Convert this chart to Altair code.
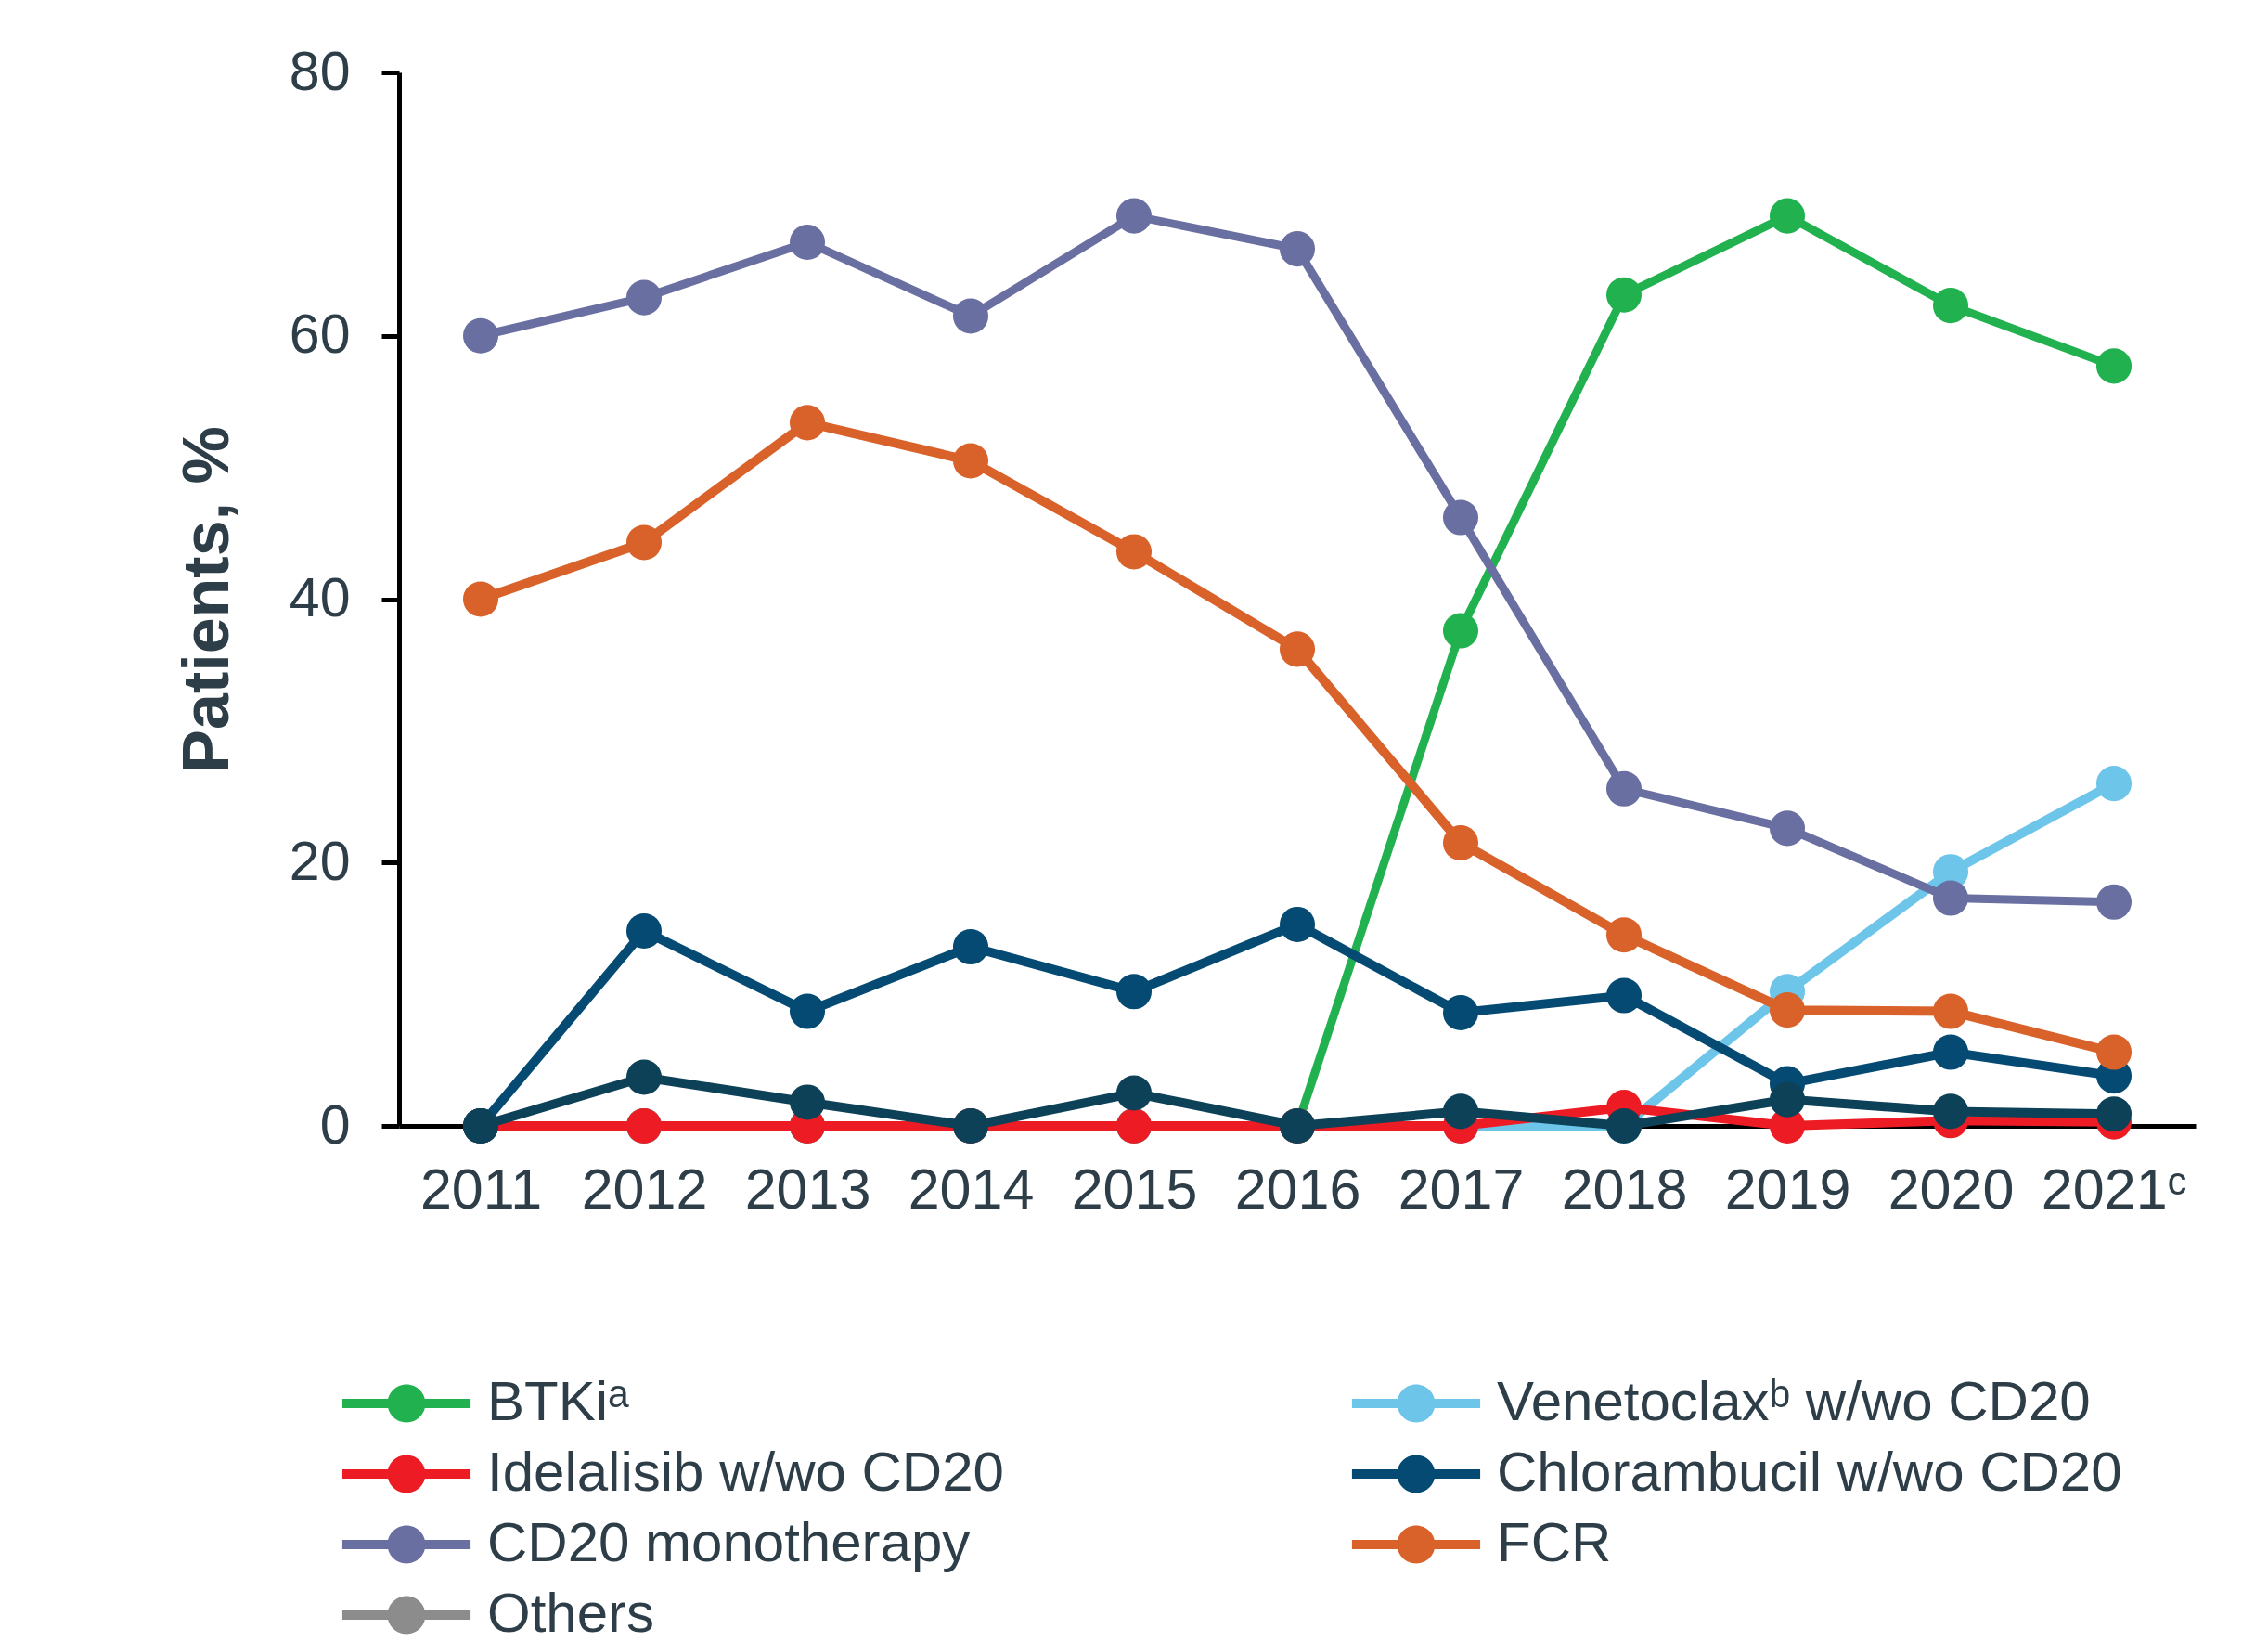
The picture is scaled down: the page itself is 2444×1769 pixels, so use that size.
import altair as alt
import pandas as pd

years = [2011, 2012, 2013, 2014, 2015, 2016, 2017, 2018, 2019, 2020, 2021]
btki = [0, 0, 0, 0, 0, 0, 37.6, 63.1, 69.1, 62.3, 57.7]
venetoclax = [0, 0, 0, 0, 0, 0, 0, 0, 10.2, 19.3, 26.0]
idelalisib = [0, 0, 0, 0, 0, 0, 0, 1.4, 0, 0.4, 0.3]
chlorambucil = [0, 14.8, 8.7, 13.6, 10.2, 15.3, 8.6, 9.9, 3.2, 5.6, 3.8]
cd20 = [60.0, 62.9, 67.1, 61.5, 69.1, 66.6, 46.2, 25.6, 22.6, 17.3, 17.0]
fcr = [40.0, 44.3, 53.4, 50.5, 43.6, 36.2, 21.5, 14.5, 8.8, 8.7, 5.6]
others = [0, 3.7, 1.8, 0, 2.5, 0, 1.1, 0, 2.0, 1.1, 0.9]

names = {
    "btki": "BTKiᵃ",
    "ven": "Venetoclaxᵇ w/wo CD20",
    "ide": "Idelalisib w/wo CD20",
    "chl": "Chlorambucil w/wo CD20",
    "cd20": "CD20 monotherapy",
    "fcr": "FCR",
    "oth": "Others",
}
# legend order (filled column by column, 2 columns)
legend_domain = [names["btki"], names["ide"], names["cd20"], names["oth"],
                 names["ven"], names["chl"], names["fcr"]]
legend_colors = ["#21b14f", "#ed1c24", "#6a6fa2", "#8c8c8c",
                 "#6dc5ea", "#054a73", "#d9622b"]
others_line_color = "#0d4158"

series = [
    ("btki", btki, 9), ("ven", venetoclax, 10), ("ide", idelalisib, 10),
    ("chl", chlorambucil, 10), ("cd20", cd20, 9), ("fcr", fcr, 10),
    ("oth", others, 10),
]

TEXT = "#2d3e48"
FONT = "Liberation Sans"

sym_path = ("M-3.14,-0.23H-0.88V0.23H-3.14Z M0.88,-0.23H3.14V0.23H0.88Z "
            "M0,-0.93A0.93,0.93,0,1,1,0,0.93A0.93,0.93,0,1,1,0,-0.93Z")

color_scale = alt.Scale(domain=legend_domain, range=legend_colors)
legend = alt.Legend(
    title=None, orient="none", legendX=-22, legendY=1404, columns=2,
    symbolType=sym_path, symbolSize=1936, symbolStrokeWidth=0,
    symbolOpacity=1,
    labelFontSize=60, labelFont=FONT, labelColor=TEXT, labelOffset=57,
    labelLimit=1000, columnPadding=374, rowPadding=16,
)

x_enc = alt.X(
    "year:Q",
    scale=alt.Scale(domain=[2010.5, 2021.5], nice=False, zero=False),
    axis=alt.Axis(
        values=years, format="d", title=None, ticks=False, grid=False,
        domainColor="black", domainWidth=5, labelFontSize=61, labelFont=FONT,
        labelColor=TEXT, labelPadding=40,
        labelExpr="datum.value == 2021 ? '2021ᶜ' : datum.label",
    ),
)
y_enc = alt.Y(
    "value:Q",
    scale=alt.Scale(domain=[0, 80], nice=False),
    axis=alt.Axis(
        values=[0, 20, 40, 60, 80], title="Patients, %", grid=False,
        domainColor="black", domainWidth=5, tickColor="black", tickWidth=5,
        tickSize=19, labelFontSize=59, labelFont=FONT, labelColor=TEXT,
        labelPadding=34, titleFontSize=70, titleFont=FONT, titleColor=TEXT,
        titleFontWeight="bold", titlePadding=51,
    ),
)

layers = []
for key, vals, sw in series:
    df = pd.DataFrame({"year": years, "value": vals, "series": names[key]})
    base = alt.Chart(df)
    if key == "oth":
        col = alt.value(others_line_color)
    else:
        col = alt.Color("series:N", scale=color_scale, legend=legend)
    pts = base.mark_circle(size=1450, opacity=1).encode(x=x_enc, y=y_enc, color=col)
    line = base.mark_line(strokeWidth=sw).encode(x=x_enc, y=y_enc, color=col)
    layers += [pts, line]

chart = alt.layer(*layers).properties(
    width=1936, height=1135, background="white",
    autosize=alt.AutoSizeParams(type="none"),
    padding={"left": 422, "top": 70, "right": 60, "bottom": 556},
).configure_view(stroke=None)

chart.save("out.html", embed_options={"renderer": "svg", "actions": False})
